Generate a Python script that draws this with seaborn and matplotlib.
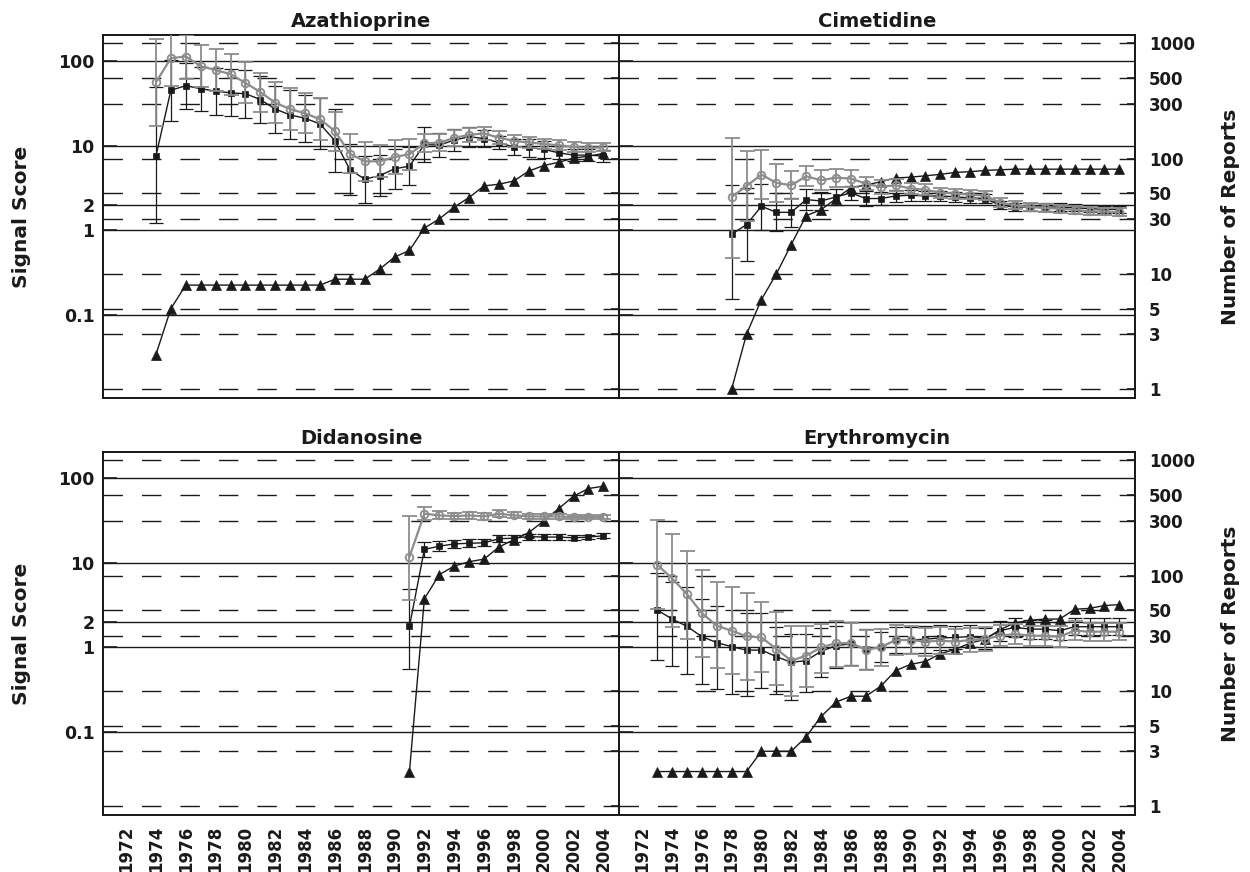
import numpy as np
import matplotlib
matplotlib.use("Agg")
import matplotlib.pyplot as plt
from matplotlib.ticker import NullLocator, FixedLocator, FixedFormatter
import seaborn as sns

# ---------------- data ----------------
# Azathioprine
aza_years = list(range(1974, 2005))
aza_blk = [7.5, 45, 51, 47, 44, 42, 41, 35, 27, 23, 21, 18, 11.4, 5.2, 4.0, 4.4, 5.3, 5.7,
           10.3, 10.1, 11.6, 12.7, 12.1, 10.8, 9.6, 9.5, 9.0, 8.2, 7.7, 7.7, 7.5]
aza_blk_lo = [1.2, 19.4, 27.0, 25.5, 22.9, 22.3, 21.1, 18.6, 14.1, 12.0, 10.9, 9.2, 4.9, 2.6, 2.1,
              2.5, 3.1, 3.4, 6.4, 7.4, 8.7, 9.7, 9.6, 9.0, 7.8, 7.4, 7.1, 6.9, 6.5, 6.5, 6.4]
aza_blk_hi = [49, 104, 95, 86, 83, 80, 78, 66, 50, 45, 40, 36, 27, 10.4, 7.6, 7.8, 9.1, 9.5,
              16.5, 13.9, 15.5, 16.7, 15.2, 13.0, 11.9, 12.1, 11.4, 9.8, 9.1, 9.1, 8.8]
aza_gry = [56, 108, 113, 87, 78, 70, 55, 43, 32, 27, 24, 20.5, 14.8, 8.0, 6.5, 6.5, 7.3, 7.9,
           10.6, 10.8, 12.3, 13.4, 13.9, 12.4, 11.3, 10.9, 10.4, 10.1, 9.6, 9.4, 9.5]
aza_gry_lo = [17, 50, 62, 49, 44, 40, 32, 25, 18.4, 15.2, 14.1, 11.6, 8.7, 4.7, 3.8, 4.2, 4.6,
              5.2, 8.3, 8.5, 10.0, 11.1, 11.6, 10.4, 9.6, 9.3, 9.1, 8.8, 8.4, 8.4, 8.5]
aza_gry_hi = [182, 233, 203, 155, 139, 121, 97, 73, 56, 48, 42, 36, 25, 13.6, 11.1, 10.1, 11.5,
              12.0, 13.5, 13.7, 15.2, 16.2, 16.7, 14.7, 13.3, 12.7, 11.9, 11.6, 11.0, 10.6, 10.6]
aza_reports = [2, 5, 8, 8, 8, 8, 8, 8, 8, 8, 8, 8, 9, 9, 9, 11, 14, 16, 25, 30, 38, 46, 58, 60,
               64, 78, 87, 93, 101, 105, 111]

# Cimetidine
cim_years = list(range(1978, 2005))
cim_blk = [0.89, 1.16, 1.91, 1.62, 1.62, 2.29, 2.21, 2.46, 2.75, 2.36, 2.36, 2.53, 2.58, 2.53,
           2.53, 2.47, 2.40, 2.36, 1.96, 1.87, 1.87, 1.87, 1.87, 1.84, 1.79, 1.76, 1.76]
cim_blk_lo = [0.153, 0.43, 1.0, 0.97, 1.10, 1.73, 1.71, 1.96, 2.25, 1.93, 1.97, 2.15, 2.21, 2.19,
              2.21, 2.17, 2.11, 2.10, 1.76, 1.68, 1.68, 1.69, 1.69, 1.67, 1.62, 1.59, 1.59]
cim_blk_hi = [3.39, 3.16, 3.5, 2.77, 2.37, 3.04, 2.85, 3.09, 3.36, 2.88, 2.83, 2.98, 3.01, 2.93,
              2.90, 2.81, 2.73, 2.66, 2.19, 2.09, 2.09, 2.07, 2.07, 2.03, 1.98, 1.94, 1.94]
cim_gry = [2.46, 3.32, 4.53, 3.61, 3.39, 4.33, 3.88, 4.17, 4.06, 3.54, 3.24, 3.39, 3.1, 3.0,
           2.77, 2.70, 2.62, 2.55, 2.11, 1.96, 1.87, 1.82, 1.79, 1.74, 1.66, 1.66, 1.63]
cim_gry_lo = [0.466, 1.29, 2.33, 2.13, 2.31, 3.30, 2.95, 3.26, 3.24, 2.95, 2.70, 2.88, 2.66, 2.59,
              2.42, 2.36, 2.31, 2.24, 1.87, 1.76, 1.68, 1.63, 1.61, 1.56, 1.49, 1.50, 1.48]
cim_gry_hi = [12.4, 8.57, 8.81, 6.12, 4.97, 5.69, 5.10, 5.33, 5.10, 4.25, 3.89, 3.99, 3.62, 3.47,
              3.17, 3.09, 2.98, 2.90, 2.38, 2.19, 2.09, 2.03, 2.00, 1.94, 1.85, 1.83, 1.80]
cim_reports = [1, 3, 6, 10, 18, 32, 36, 45, 56, 59, 63, 68, 69, 71, 73, 76, 77, 79, 80, 81, 81,
               81, 81, 81, 81, 81, 81]

# Didanosine
did_years = list(range(1991, 2005))
did_blk = [1.76, 14.3, 15.6, 16.6, 16.9, 17.1, 19.1, 19.4, 20.3, 20.0, 20.0, 19.6, 20.0, 20.7]
did_blk_lo = [0.55, 11.6, 13.6, 14.9, 15.2, 15.5, 17.4, 17.7, 18.7, 18.6, 18.6, 18.4, 18.8, 19.4]
did_blk_hi = [4.9, 17.6, 17.9, 18.5, 18.8, 18.9, 20.9, 21.2, 22.0, 21.5, 21.5, 20.9, 21.3, 22.1]
did_gry = [11.7, 37.8, 36.1, 35.4, 36.1, 35.1, 37.8, 36.1, 35.1, 35.1, 35.1, 34.4, 34.4, 34.4]
did_gry_lo = [3.65, 31.5, 32.4, 32.3, 33.0, 32.1, 34.5, 33.3, 32.7, 32.7, 33.0, 32.3, 32.6, 32.6]
did_gry_hi = [35.7, 45.4, 40.3, 38.8, 39.5, 38.4, 41.4, 39.2, 37.7, 37.7, 37.4, 36.7, 36.3, 36.3]
did_reports = [2, 63, 102, 121, 132, 139, 177, 205, 236, 298, 381, 488, 569, 596]

# Erythromycin
ery_years = list(range(1973, 2005))
ery_blk = [2.75, 2.15, 1.76, 1.33, 1.13, 1.01, 0.92, 0.92, 0.77, 0.66, 0.69, 0.89, 1.04, 1.09,
           0.95, 1.0, 1.21, 1.21, 1.24, 1.28, 1.30, 1.33, 1.26, 1.56, 1.71, 1.63, 1.63, 1.56,
           1.74, 1.74, 1.74, 1.74]
ery_blk_lo = [0.71, 0.59, 0.48, 0.37, 0.32, 0.28, 0.265, 0.33, 0.28, 0.235, 0.29, 0.44, 0.57,
              0.61, 0.55, 0.66, 0.84, 0.84, 0.86, 0.91, 0.95, 0.99, 0.94, 1.19, 1.33, 1.26, 1.26,
              1.22, 1.39, 1.39, 1.39, 1.39]
ery_blk_hi = [7.5, 5.85, 5.1, 3.7, 3.1, 2.75, 2.5, 2.5, 1.74, 1.43, 1.43, 1.66, 1.79, 1.96, 1.63,
              1.51, 1.74, 1.74, 1.78, 1.81, 1.79, 1.80, 1.69, 2.05, 2.21, 2.10, 2.10, 1.99, 2.18,
              2.18, 2.18, 2.18]
ery_gry = [9.46, 6.51, 4.25, 2.53, 1.79, 1.56, 1.34, 1.30, 0.95, 0.69, 0.79, 0.99, 1.11, 1.11,
           0.93, 0.99, 1.21, 1.21, 1.16, 1.19, 1.16, 1.21, 1.24, 1.36, 1.43, 1.36, 1.36, 1.33,
           1.56, 1.52, 1.52, 1.52]
ery_gry_lo = [2.8, 1.71, 1.24, 0.77, 0.56, 0.48, 0.41, 0.50, 0.36, 0.265, 0.34, 0.49, 0.58, 0.60,
              0.53, 0.60, 0.80, 0.83, 0.79, 0.83, 0.82, 0.87, 0.90, 1.02, 1.09, 1.04, 1.04, 1.01,
              1.21, 1.19, 1.19, 1.20]
ery_gry_hi = [32, 21.5, 13.6, 8.2, 5.96, 5.1, 4.33, 3.39, 2.62, 1.79, 1.79, 1.87, 2.05, 1.91, 1.59,
              1.63, 1.82, 1.77, 1.70, 1.71, 1.64, 1.68, 1.71, 1.82, 1.88, 1.79, 1.79, 1.75, 2.01,
              1.94, 1.94, 1.93]
ery_reports = [2, 2, 2, 2, 2, 2, 2, 3, 3, 3, 4, 6, 8, 9, 9, 11, 15, 17, 18, 21, 23, 26, 28, 34,
               39, 41, 42, 42, 51, 52, 55, 56]

# axis ticks
signal_ticks = [0.1, 1, 2, 10, 100]
signal_labels = ["0.1", "1", "2", "10", "100"]
report_ticks = [1, 3, 5, 10, 30, 50, 100, 300, 500, 1000]
report_labels = ["1", "3", "5", "10", "30", "50", "100", "300", "500", "1000"]
year_ticks = list(range(1972, 2005, 2))

# ---------------- style ----------------
sns.set_style("white")
plt.rcParams.update({
    "font.family": ["DejaVu Sans"],
    "font.weight": "bold",
    "axes.linewidth": 1.3,
    "axes.edgecolor": "#1a1a1a",
    "xtick.color": "#1a1a1a",
    "ytick.color": "#1a1a1a",
    "text.color": "#1a1a1a",
})
BLACK = "#1a1a1a"
GRAY = "#8c8c8c"

W, H = 1250, 872
fig = plt.figure(figsize=(W / 100, H / 100), dpi=100)


def px_axes(left, top, right, bottom):
    return fig.add_axes([left / W, 1 - bottom / H, (right - left) / W, (bottom - top) / H])


def draw_panel(ax, title, years, blk, blk_lo, blk_hi, gry, gry_lo, gry_hi, reports,
               left_labels, right_labels, x_labels):
    ax2 = ax.twinx()
    ax.set_zorder(ax2.get_zorder() + 1)
    ax.patch.set_visible(False)
    ax.set_yscale("log")
    ax2.set_yscale("log")

    years = np.asarray(years, dtype=float)
    blk, blk_lo, blk_hi = map(np.asarray, (blk, blk_lo, blk_hi))
    gry, gry_lo, gry_hi = map(np.asarray, (gry, gry_lo, gry_hi))

    # cumulative number of reports (right scale)
    sns.lineplot(x=years, y=reports, ax=ax2, color=BLACK, lw=1.0, marker="^",
                 markersize=6.5, markeredgecolor=BLACK, markeredgewidth=0.5,
                 estimator=None, legend=False)

    # signal scores (left scale)
    ax.errorbar(years, blk, yerr=[blk - blk_lo, blk_hi - blk], fmt="none", ecolor=BLACK,
                elinewidth=0.9, capsize=4.7, capthick=0.9, zorder=3)
    sns.lineplot(x=years, y=blk, ax=ax, color=BLACK, lw=1.0, marker="s", markersize=5,
                 markeredgecolor=BLACK, markeredgewidth=0.5, estimator=None, legend=False,
                 zorder=4)
    ax.errorbar(years, gry, yerr=[gry - gry_lo, gry_hi - gry], fmt="none", ecolor=GRAY,
                elinewidth=1.3, capsize=5.4, capthick=1.3, zorder=5)
    sns.lineplot(x=years, y=gry, ax=ax, color=GRAY, lw=1.6, marker="o", markersize=5.5,
                 markerfacecolor="none", markeredgecolor=GRAY, markeredgewidth=1.3,
                 estimator=None, legend=False, zorder=6)

    # scales, grid and ticks
    ax.set_xlim(1970.45, 2005.05)
    ax.set_ylim(0.0103, 203)
    ax2.set_ylim(0.84, 1180)

    ax.yaxis.set_major_locator(FixedLocator(signal_ticks))
    ax.yaxis.set_major_formatter(FixedFormatter(signal_labels))
    ax.yaxis.set_minor_locator(NullLocator())
    ax2.yaxis.set_major_locator(FixedLocator(report_ticks))
    ax2.yaxis.set_major_formatter(FixedFormatter(report_labels))
    ax2.yaxis.set_minor_locator(NullLocator())
    ax.set_xticks(year_ticks)
    ax.set_xticklabels([str(y) for y in year_ticks])

    ax.grid(False)
    ax2.grid(False)
    ax.yaxis.grid(True, which="major", color=BLACK, lw=1.0, ls="-")
    ax2.yaxis.grid(True, which="major", color=BLACK, lw=1.0, ls=(0, (14, 13.7)))

    ax.tick_params(axis="y", which="major", direction="in", length=10, width=1.2,
                   labelsize=12.5, pad=6, left=True, right=False, labelleft=left_labels)
    ax2.tick_params(axis="y", which="major", direction="in", length=6, width=1.2,
                    labelsize=12, pad=10, right=True, labelright=right_labels)
    ax.tick_params(axis="x", which="major", direction="in", length=6, width=1.0,
                   labelsize=12, pad=8, labelbottom=x_labels, labelrotation=90, top=False)

    ax.set_xlabel("")
    ax.set_ylabel("")
    ax2.set_ylabel("")
    ax.set_title(title, fontsize=14, fontweight="bold", pad=6)
    for sp in list(ax.spines.values()) + list(ax2.spines.values()):
        sp.set_linewidth(1.3)
        sp.set_color(BLACK)


panels = [
    ((103, 35, 619, 398), "Azathioprine", aza_years, aza_blk, aza_blk_lo, aza_blk_hi,
     aza_gry, aza_gry_lo, aza_gry_hi, aza_reports, True, False, False),
    ((619, 35, 1135, 398), "Cimetidine", cim_years, cim_blk, cim_blk_lo, cim_blk_hi,
     cim_gry, cim_gry_lo, cim_gry_hi, cim_reports, False, True, False),
    ((103, 452, 619, 815), "Didanosine", did_years, did_blk, did_blk_lo, did_blk_hi,
     did_gry, did_gry_lo, did_gry_hi, did_reports, True, False, True),
    ((619, 452, 1135, 815), "Erythromycin", ery_years, ery_blk, ery_blk_lo, ery_blk_hi,
     ery_gry, ery_gry_lo, ery_gry_hi, ery_reports, False, True, True),
]

for box, *rest in panels:
    draw_panel(px_axes(*box), *rest)

for yc in (217, 634):
    fig.text(22 / W, 1 - yc / H, "Signal Score", rotation=90, ha="center", va="center",
             fontsize=14.5, fontweight="bold")
    fig.text(1231 / W, 1 - yc / H, "Number of Reports", rotation=90, ha="center",
             va="center", fontsize=14.5, fontweight="bold")

fig.savefig("out.png", dpi=100, facecolor="white")
